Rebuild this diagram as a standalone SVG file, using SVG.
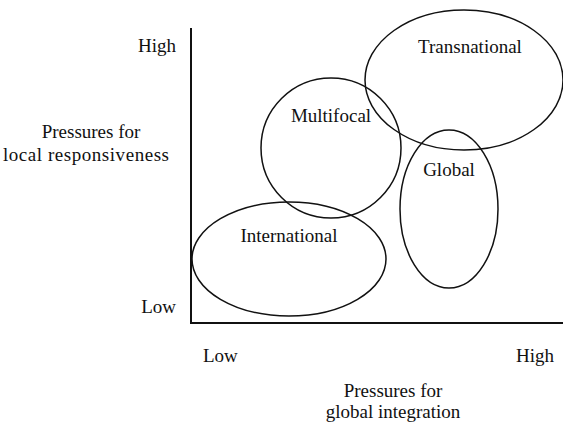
<svg xmlns="http://www.w3.org/2000/svg" width="563" height="425" viewBox="0 0 563 425">
<style>
text{font-family:'Liberation Serif','DejaVu Serif',serif;font-size:19px;fill:#111}
.m{text-anchor:middle}
.e{text-anchor:end}
ellipse{fill:none;stroke:#111;stroke-width:1.5}
.ax{stroke:#111;stroke-width:2;fill:none}
</style>
<rect width="563" height="425" fill="#fff"/>
<g id="axes">
<path class="ax" d="M191,28 V323 H563"/>
<text class="e" x="176" y="52">High</text>
<text class="e" x="176" y="313">Low</text>
<text class="m" x="91" y="138">Pressures for</text>
<text x="3" y="161" textLength="166" lengthAdjust="spacing">local responsiveness</text>
<text x="203" y="362">Low</text>
<text class="e" x="554" y="362">High</text>
<text class="m" x="393" y="397">Pressures for</text>
<text class="m" x="393" y="418">global integration</text>
</g>
<g id="transnational"><ellipse cx="464" cy="80" rx="99" ry="70"/><text class="m" x="470" y="53">Transnational</text></g>
<g id="multifocal"><ellipse cx="331" cy="148" rx="70" ry="70"/><text class="m" x="331" y="122">Multifocal</text></g>
<g id="global"><ellipse cx="449" cy="209" rx="49" ry="79"/><text class="m" x="449" y="176">Global</text></g>
<g id="international"><ellipse cx="289" cy="259" rx="97" ry="57"/><text class="m" x="289" y="242">International</text></g>
<g id="connectors"></g>
</svg>
